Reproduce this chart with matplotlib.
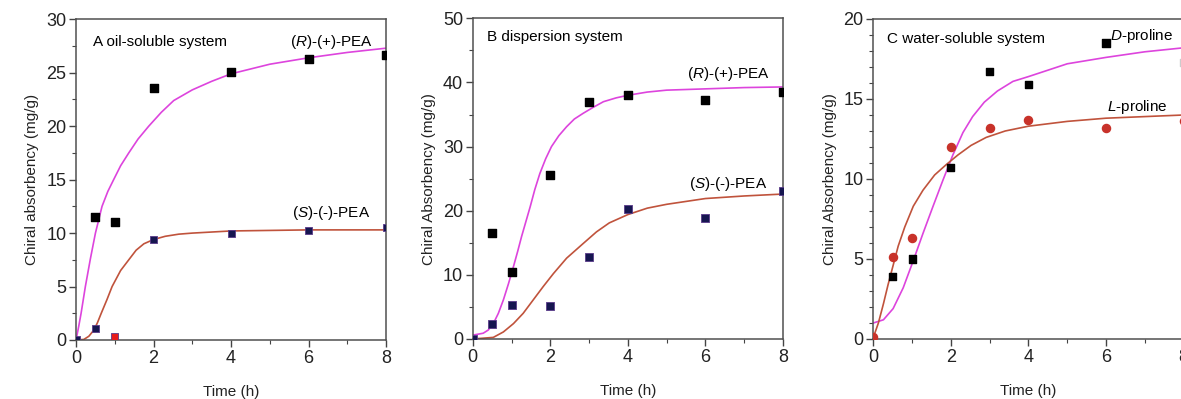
import matplotlib.pyplot as plt
from matplotlib.ticker import MultipleLocator

plt.rcParams['font.family'] = ['Liberation Sans', 'DejaVu Sans']
plt.rcParams['mathtext.fontset'] = 'custom'
plt.rcParams['mathtext.rm'] = 'Liberation Sans'
plt.rcParams['mathtext.it'] = 'Liberation Sans:italic'

MAGENTA = '#dd44dd'
BROWN = '#c0533c'
NAVY = '#161650'

# ---- panel A: oil-soluble system ----
a_t = [0, 0.5, 1, 2, 4, 6, 8]
a_r = [0, 11.5, 11.0, 23.6, 25.1, 26.3, 26.7]
a_s = [0, 1.1, 0.3, 9.4, 9.95, 10.25, 10.55]
a_s_col = [NAVY, NAVY, '#e81c1c', NAVY, NAVY, NAVY, NAVY]
a_fit_r_t = [0, 0.07, 0.13, 0.24, 0.37, 0.5, 0.67, 0.82, 0.97, 1.15, 1.36, 1.6,
             1.875, 2.2, 2.52, 3, 3.5, 4, 5, 6, 7, 8]
a_fit_r = [0, 1.3, 2.5, 5.0, 7.6, 10.0, 12.5, 13.9, 15.0, 16.3, 17.5, 18.8,
           20.0, 21.3, 22.4, 23.4, 24.2, 24.9, 25.8, 26.4, 26.9, 27.3]
a_fit_s_t = [0, 0.2, 0.33, 0.46, 0.55, 0.65, 0.8, 0.93, 1.15, 1.36, 1.55, 1.75,
             2.0, 2.3, 2.65, 3, 4, 5, 6, 8]
a_fit_s = [0, 0.05, 0.35, 0.93, 1.6, 2.5, 3.8, 5.0, 6.5, 7.5, 8.4, 9.0,
           9.4, 9.7, 9.9, 10.0, 10.2, 10.25, 10.3, 10.3]

# ---- panel B: dispersion system ----
b_t = [0, 0.5, 1, 2, 3, 4, 6, 8]
b_r = [0, 16.5, 10.5, 25.6, 37.0, 38.0, 37.2, 38.5]
b_s = [0, 2.3, 5.3, 5.1, 12.8, 20.2, 18.9, 23.1]
b_fit_r_t = [0, 0.27, 0.4, 0.53, 0.66, 0.79, 0.92, 1.05, 1.16, 1.26, 1.37, 1.48,
             1.6, 1.73, 1.88, 2.03, 2.22, 2.42, 2.62, 2.85, 3.1, 3.37, 3.7,
             4, 4.5, 5, 6, 7, 8]
b_fit_r = [0.6, 0.9, 1.4, 2.4, 4.0, 6.1, 8.6, 11.3, 13.7, 16.0, 18.3, 20.6,
           23.3, 25.8, 28.1, 30.0, 31.7, 33.1, 34.3, 35.2, 36.1, 37.0, 37.6,
           38.0, 38.5, 38.8, 39.0, 39.2, 39.3]
b_fit_s_t = [0, 0.53, 0.79, 1.05, 1.3, 1.56, 1.82, 2.08, 2.42, 2.85, 3.19, 3.52,
             4, 4.5, 5, 6, 7, 8]
b_fit_s = [0, 0.25, 1.1, 2.4, 4.0, 6.1, 8.2, 10.2, 12.6, 14.9, 16.7, 18.1,
           19.4, 20.4, 21.0, 21.9, 22.3, 22.6]

# ---- panel C: water-soluble system ----
c_t = [0, 0.5, 1, 2, 3, 4, 6, 8]
c_d = [None, 3.9, 5.0, 10.7, 16.7, 15.9, 18.5, 17.3]
c_d_col = ['k', 'k', 'k', 'k', 'k', 'k', 'k', '#cccccc']
c_l = [0.1, 5.1, 6.3, 12.0, 13.2, 13.7, 13.2, 13.6]
c_fit_d_t = [0, 0.26, 0.51, 0.77, 1.03, 1.28, 1.54, 1.79, 2.05, 2.31, 2.56,
             2.86, 3.2, 3.6, 4, 4.5, 5, 6, 7, 8]
c_fit_d = [1.0, 1.2, 1.9, 3.2, 4.9, 6.6, 8.3, 9.9, 11.5, 12.9, 13.9,
           14.8, 15.5, 16.1, 16.4, 16.8, 17.2, 17.6, 17.95, 18.2]
c_fit_l_t = [0, 0.13, 0.26, 0.38, 0.51, 0.64, 0.81, 1.03, 1.28, 1.58, 1.88,
             2.18, 2.52, 2.91, 3.4, 4, 5, 6, 7, 8]
c_fit_l = [0.1, 1.0, 2.2, 3.4, 4.6, 5.8, 7.0, 8.3, 9.3, 10.25, 10.9,
           11.5, 12.1, 12.6, 13.0, 13.3, 13.6, 13.8, 13.9, 14.0]

fig = plt.figure(figsize=(11.81, 3.99), dpi=100)
axA = fig.add_axes([0.0644, 0.1479, 0.2625, 0.8037])
axB = fig.add_axes([0.4003, 0.1504, 0.2627, 0.8037])
axC = fig.add_axes([0.7395, 0.1504, 0.2627, 0.8020])


def style(ax, ymax, major, minor, ylabel):
    ax.set_xlim(0, 8)
    ax.set_ylim(0, ymax)
    ax.xaxis.set_major_locator(MultipleLocator(2))
    ax.xaxis.set_minor_locator(MultipleLocator(1))
    ax.yaxis.set_major_locator(MultipleLocator(major))
    ax.yaxis.set_minor_locator(MultipleLocator(minor))
    ax.tick_params(which='major', direction='out', length=5, width=1,
                   labelsize=13, color='#444444', labelcolor='#222222', pad=2)
    ax.tick_params(which='minor', direction='out', length=3, width=0.8,
                   color='#444444')
    for sp in ax.spines.values():
        sp.set_color('#505050')
        sp.set_linewidth(1.1)
    ax.set_xlabel('Time (h)', fontsize=11, color='#222222', labelpad=13)
    ax.set_ylabel(ylabel, fontsize=11, color='#222222', labelpad=5)


# panel A
axA.plot(a_fit_r_t, a_fit_r, color=MAGENTA, lw=1.2)
axA.plot(a_fit_s_t, a_fit_s, color=BROWN, lw=1.2)
axA.scatter(a_t[1:], a_r[1:], marker='s', s=26, color='k', zorder=3)
axA.scatter(a_t, a_s, marker='s', s=26, c=a_s_col, edgecolors='#5a3a8a',
            linewidths=0.6, zorder=3)
style(axA, 30, 5, 2.5, 'Chiral absorbency (mg/g)')
axA.text(0.44, 27.9, 'A oil-soluble system', fontsize=11, va='center')
axA.text(7.66, 27.9, r'($\mathit{R}$)-(+)-PEA', fontsize=11, va='center', ha='right')
axA.text(7.6, 11.9, r'($\mathit{S}$)-(-)-PEA', fontsize=11, va='center', ha='right')

# panel B
axB.plot(b_fit_r_t, b_fit_r, color=MAGENTA, lw=1.2)
axB.plot(b_fit_s_t, b_fit_s, color=BROWN, lw=1.2)
axB.scatter(b_t[1:], b_r[1:], marker='s', s=26, color='k', zorder=3)
axB.scatter(b_t, b_s, marker='s', s=26, color=NAVY, edgecolors='#5a3a8a',
            linewidths=0.6, zorder=3)
style(axB, 50, 10, 5, 'Chiral Absorbency (mg/g)')
axB.text(0.36, 47.1, 'B dispersion system', fontsize=11, va='center')
axB.text(7.66, 41.3, r'($\mathit{R}$)-(+)-PEA', fontsize=11, va='center', ha='right')
axB.text(7.6, 24.2, r'($\mathit{S}$)-(-)-PEA', fontsize=11, va='center', ha='right')

# panel C
axC.plot(c_fit_d_t, c_fit_d, color=MAGENTA, lw=1.2)
axC.plot(c_fit_l_t, c_fit_l, color=BROWN, lw=1.2)
d_pts = [(t, v, c) for t, v, c in zip(c_t, c_d, c_d_col) if v is not None]
axC.scatter([p[0] for p in d_pts], [p[1] for p in d_pts], marker='s', s=26,
            c=[p[2] for p in d_pts], zorder=3)
axC.scatter(c_t, c_l, marker='o', s=34, color='#c8322a', zorder=3)
style(axC, 20, 5, 1, 'Chiral Absorbency (mg/g)')
axC.text(0.35, 18.75, 'C water-soluble system', fontsize=11, va='center')
axC.text(6.1, 18.95, r'$\mathit{D}$-proline', fontsize=11, va='center')
axC.text(6.03, 14.5, r'$\mathit{L}$-proline', fontsize=11, va='center')

fig.savefig('out.png', dpi=100)
